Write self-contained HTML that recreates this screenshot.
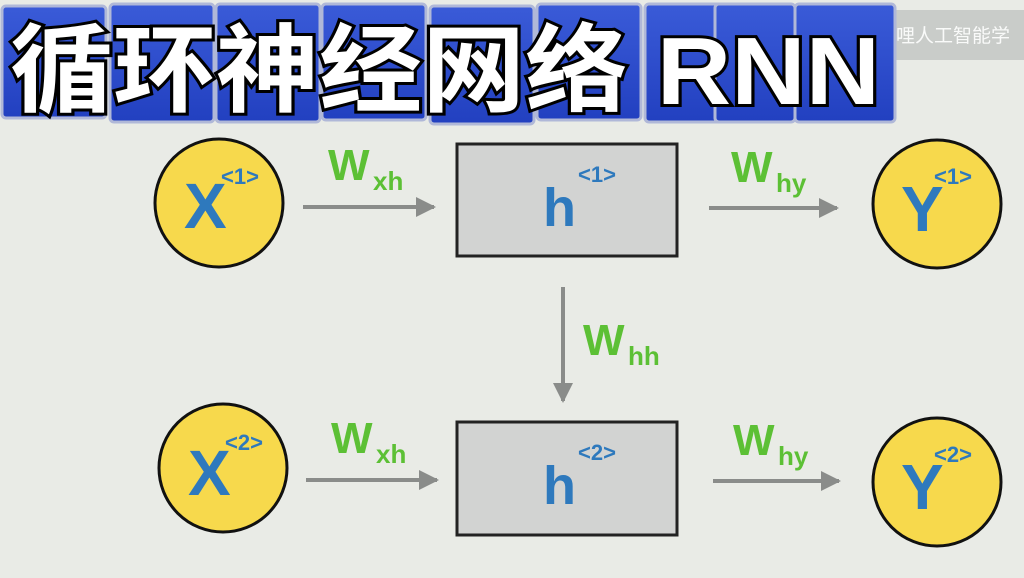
<!DOCTYPE html>
<html><head><meta charset="utf-8"><style>
html,body{margin:0;padding:0;width:1024px;height:578px;overflow:hidden;background:#e9ebe6}
svg{display:block}
</style></head><body>
<svg width="1024" height="578" viewBox="0 0 1024 578" xmlns="http://www.w3.org/2000/svg">
<defs>
<marker id="a" viewBox="0 0 10 10" refX="9" refY="5" markerWidth="5" markerHeight="5" orient="auto"><path d="M0,0L10,5L0,10z" fill="#8a8c8a"/></marker>
<linearGradient id="t" x1="0" y1="0" x2="0" y2="1"><stop offset="0" stop-color="#3a5bd8"/><stop offset="1" stop-color="#2240c0"/></linearGradient>
</defs>
<rect x="870" y="10" width="154" height="50" fill="#c9ccc9"/>
<text x="877" y="42" font-family="Noto Sans CJK SC,WenQuanYi Zen Hei,sans-serif" font-size="19" fill="#fff" opacity="0.9">哔哩人工智能学</text>
<g fill="url(#t)" stroke="#b0b8d8" stroke-width="3">
<rect x="2" y="6" width="104" height="112" rx="4"/>
<rect x="110" y="4" width="104" height="118" rx="4"/>
<rect x="216" y="4" width="104" height="118" rx="4"/>
<rect x="322" y="4" width="104" height="116" rx="4"/>
<rect x="430" y="6" width="104" height="118" rx="4"/>
<rect x="537" y="4" width="104" height="116" rx="4"/>
<rect x="645" y="4" width="80" height="118" rx="4"/>
<rect x="715" y="4" width="80" height="118" rx="4"/>
<rect x="795" y="4" width="100" height="118" rx="4"/>
</g>
<text x="10" y="104" textLength="870" lengthAdjust="spacingAndGlyphs" font-family="Liberation Sans,Noto Sans CJK SC,sans-serif" font-weight="bold" font-size="96" fill="#fff" stroke="#000" stroke-width="6" paint-order="stroke">循环神经网络 RNN</text>
<g fill="#f7d94c" stroke="#111" stroke-width="3">
<circle cx="219" cy="203" r="64"/><circle cx="937" cy="204" r="64"/>
<circle cx="223" cy="468" r="64"/><circle cx="937" cy="482" r="64"/>
</g>
<g fill="#d2d3d2" stroke="#222" stroke-width="3">
<rect x="457" y="144" width="220" height="112"/>
<rect x="457" y="422" width="220" height="113"/>
</g>
<g stroke="#8a8c8a" stroke-width="4" marker-end="url(#a)">
<line x1="303" y1="207" x2="434" y2="207"/>
<line x1="709" y1="208" x2="837" y2="208"/>
<line x1="563" y1="287" x2="563" y2="401"/>
<line x1="306" y1="480" x2="437" y2="480"/>
<line x1="713" y1="481" x2="839" y2="481"/>
</g>
<g font-family="Liberation Sans,sans-serif" fill="#2e79bd" font-weight="bold">
<text x="184" y="228" font-size="64">X</text><text x="221" y="184" font-size="22">&lt;1&gt;</text>
<text x="188" y="495" font-size="64">X</text><text x="225" y="450" font-size="22">&lt;2&gt;</text>
<text x="901" y="231" font-size="64">Y</text><text x="934" y="184" font-size="22">&lt;1&gt;</text>
<text x="901" y="509" font-size="64">Y</text><text x="934" y="462" font-size="22">&lt;2&gt;</text>
<text x="543" y="226" font-size="54">h</text><text x="578" y="182" font-size="22">&lt;1&gt;</text>
<text x="543" y="504" font-size="54">h</text><text x="578" y="460" font-size="22">&lt;2&gt;</text>
</g>
<g font-family="Liberation Sans,sans-serif" font-weight="bold" fill="#5cc035">
<text x="328" y="180" font-size="44">W</text><text x="373" y="190" font-size="26">xh</text>
<text x="331" y="453" font-size="44">W</text><text x="376" y="463" font-size="26">xh</text>
<text x="731" y="182" font-size="44">W</text><text x="776" y="192" font-size="26">hy</text>
<text x="733" y="455" font-size="44">W</text><text x="778" y="465" font-size="26">hy</text>
<text x="583" y="355" font-size="44">W</text><text x="628" y="365" font-size="26">hh</text>
</g>
</svg>
</body></html>
